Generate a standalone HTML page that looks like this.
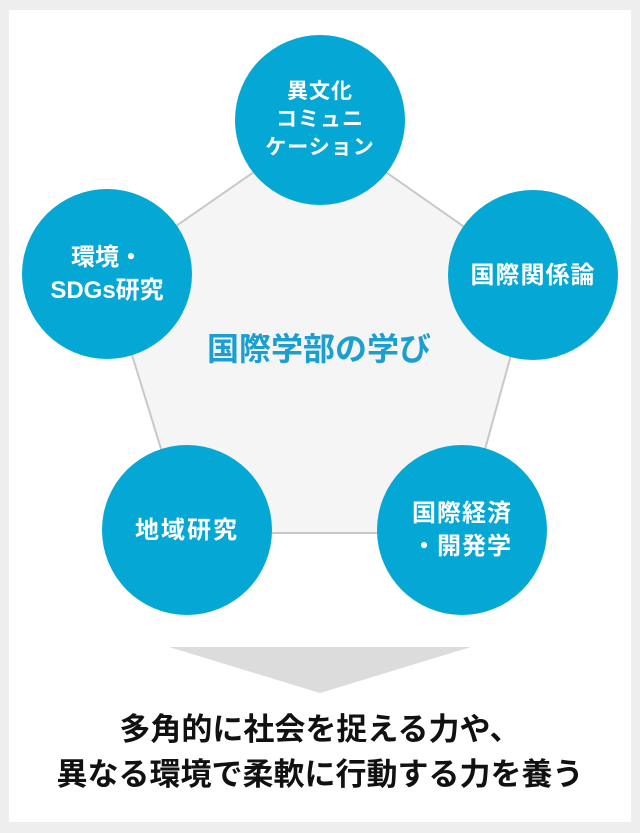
<!DOCTYPE html>
<html><head><meta charset="utf-8"><style>
html,body{margin:0;padding:0;}
body{width:640px;height:833px;background:#eeeeee;position:relative;overflow:hidden;font-family:"Liberation Sans","Noto Sans CJK JP",sans-serif;}
.panel{position:absolute;left:9px;top:10px;width:622px;height:812px;background:#fff;}
.c{position:absolute;width:170px;height:170px;border-radius:50%;background:#05a8d4;color:#fff;font-weight:bold;font-size:24px;line-height:33px;display:flex;align-items:center;justify-content:center;text-align:center;}
.t{position:absolute;left:0;width:640px;text-align:center;font-weight:bold;}
</style></head><body>
<div class="panel"></div>
<svg style="position:absolute;left:0;top:0" width="640" height="833">
<polygon points="320,126 533,275 462,533 187,533 107,274" fill="#f5f5f5" stroke="#c8c8c8" stroke-width="2"/>
<polygon points="169,647 471,647 320,693" fill="#dcdcdc"/>
</svg>
<div class="t" style="top:324px;font-size:32px;color:#1a9fd0;left:-1px;">国際学部の学び</div>
<div class="c" style="left:235px;top:35px;font-size:21px;line-height:28px;letter-spacing:1px;">異文化<br>コミュニ<br>ケーション</div>
<div class="c" style="left:22px;top:189px;">環境・<br>SDGs研究</div>
<div class="c" style="left:448px;top:190px;letter-spacing:1px;">国際関係論</div>
<div class="c" style="left:102px;top:445px;letter-spacing:2px;">地域研究</div>
<div class="c" style="left:377px;top:445px;letter-spacing:1px;">国際経済<br>・開発学</div>
<div class="t" style="top:707px;font-size:31px;line-height:45px;color:#111;">多角的に社会を捉える力や、<br>異なる環境で柔軟に行動する力を養う</div>
</body></html>
